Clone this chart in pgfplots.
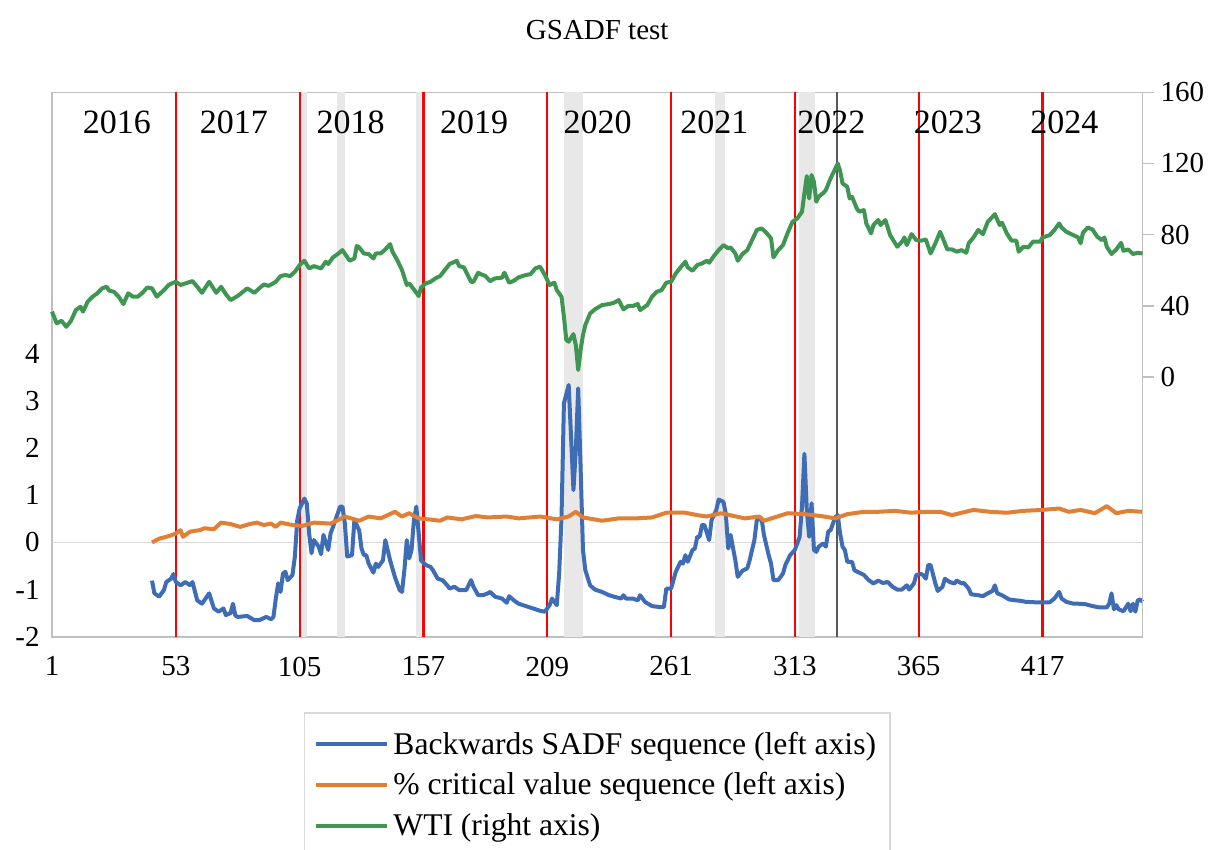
\documentclass[border=0pt]{standalone}
\usepackage{fontspec}
\setmainfont{Liberation Serif}
\usepackage{pgfplots}
\pgfplotsset{compat=1.18}
\usepackage{pgfplotstable}
\definecolor{sadf}{HTML}{3F6DB5}
\definecolor{crit}{HTML}{E17F35}
\definecolor{wti}{HTML}{3E9652}
\definecolor{band}{HTML}{E8E8E8}
\definecolor{frame}{HTML}{BFBFBF}
\definecolor{zero}{HTML}{D9D9D9}

\pgfplotstableread{
x y
1 36.7
3 30.1
5 31.6
7 28.2
9 31.6
11 37.6
13 39.5
14 36.7
16 42.3
18 45.1
20 47.0
22 49.8
24 50.7
25 48.5
27 47.9
29 45.1
31 41.0
33 47.0
35 45.1
37 45.1
39 47.3
41 50.3
43 49.8
45 45.1
48 48.8
50 51.7
52 53.0
53 53.5
55 51.7
58 53.0
60 53.9
62 50.7
64 47.3
67 53.5
70 47.3
72 50.7
74 46.6
76 43.2
79 45.5
83 49.8
86 47.3
88 49.8
90 52.0
92 51.2
95 53.5
97 56.7
99 57.3
101 56.7
103 59.1
105 62.9
107 65.3
109 61.0
111 62.3
114 61.0
116 64.8
117 63.5
119 67.2
121 69.1
123 71.3
126 65.3
128 66.6
129 73.6
130 72.8
132 69.4
134 69.1
136 66.6
137 69.4
139 69.4
141 71.7
143 74.7
144 70.4
146 65.7
148 60.1
150 51.7
151 52.6
153 49.2
155 45.5
156 50.3
158 52.6
160 53.5
162 55.4
164 56.7
166 60.1
168 63.5
171 65.3
172 62.3
174 61.6
177 53.5
178 53.5
180 58.6
181 57.8
183 56.8
185 53.8
187 55.4
190 55.8
191 58.6
193 53.0
195 54.1
197 56.0
200 57.3
202 57.8
204 61.0
206 62.0
208 57.3
210 51.7
212 53.0
213 48.8
215 45.1
216 33.9
217 20.8
218 19.8
220 24.1
221 17.9
222 3.9
223 15.1
224 23.6
225 29.2
227 35.7
229 38.0
232 40.4
235 41.0
237 41.7
239 43.2
241 38.0
243 39.9
245 39.9
247 41.0
248 37.6
251 40.4
253 45.1
255 47.9
257 48.8
259 53.0
261 53.5
263 58.2
265 61.6
267 64.8
268 61.6
270 59.7
272 62.9
274 63.8
276 65.3
277 64.2
279 68.0
281 71.3
283 74.1
285 72.3
286 72.8
288 69.4
289 65.3
291 69.1
293 71.3
295 76.9
297 82.6
299 83.5
301 81.1
303 77.9
304 67.2
306 71.3
308 74.1
310 81.1
312 87.2
314 89.1
316 92.9
317 103.2
318 112.9
319 100.3
320 113.5
321 109.7
322 98.5
323 101.3
325 103.5
326 105.0
328 111.6
329 114.4
331 120.0
332 115.9
333 108.8
335 106.9
336 100.3
337 101.3
339 94.7
340 92.9
342 93.8
343 86.3
345 80.7
346 85.4
348 88.2
349 85.4
351 88.2
353 79.7
356 73.2
358 76.0
359 78.4
360 74.1
362 80.3
364 76.9
366 76.6
368 77.3
370 69.4
372 75.1
374 81.6
375 78.4
377 71.7
379 71.7
381 70.4
383 71.3
385 69.8
386 75.1
388 78.4
390 82.6
392 80.3
394 87.2
396 90.0
397 91.5
399 85.4
400 86.7
402 80.7
404 76.6
406 76.6
407 70.4
409 73.2
411 72.8
413 76.0
416 76.0
417 78.4
420 79.7
422 82.6
424 86.3
425 84.0
427 81.6
430 79.7
432 78.4
433 75.1
434 81.1
436 84.0
438 82.9
440 78.8
442 76.9
443 78.4
444 73.2
446 69.1
448 71.7
450 75.4
451 70.9
453 71.7
455 69.1
457 69.8
459 69.4
}\wtitable

\pgfplotstableread{
x y
43 -0.81
44 -1.08
46 -1.15
48 -1.01
49 -0.84
51 -0.77
52 -0.67
53 -0.84
55 -0.91
57 -0.84
59 -0.91
60 -0.84
62 -1.23
64 -1.30
67 -1.08
69 -1.40
71 -1.47
73 -1.40
74 -1.54
76 -1.50
77 -1.30
78 -1.55
79 -1.58
83 -1.56
86 -1.65
88 -1.65
91 -1.58
93 -1.63
94 -1.58
95 -1.19
96 -0.87
97 -1.05
98 -0.66
99 -0.62
100 -0.80
102 -0.69
103 -0.30
104 0.47
105 0.72
107 0.93
108 0.83
109 0.19
110 -0.23
111 0.05
113 -0.09
114 -0.25
115 0.16
117 -0.16
118 0.19
119 0.33
120 0.47
122 0.76
123 0.76
124 0.40
125 -0.30
127 -0.27
128 0.47
130 0.26
131 -0.13
132 -0.27
133 -0.27
134 -0.45
136 -0.64
137 -0.45
138 -0.52
140 -0.38
141 0.05
143 -0.38
145 -0.73
147 -1.01
148 -1.05
149 -0.59
150 0.05
151 -0.34
152 -0.16
153 0.47
154 0.76
155 0.19
156 -0.38
158 -0.48
160 -0.52
161 -0.59
163 -0.77
165 -0.80
167 -0.91
168 -0.98
170 -0.94
172 -1.01
175 -1.01
177 -0.80
178 -0.94
180 -1.12
182 -1.12
184 -1.08
185 -1.05
187 -1.15
190 -1.19
192 -1.28
193 -1.14
195 -1.23
197 -1.30
200 -1.35
203 -1.40
206 -1.45
208 -1.47
210 -1.33
211 -1.19
213 -1.33
214 -0.66
215 0.54
216 2.95
218 3.34
219 2.24
220 1.11
221 1.96
222 3.27
223 1.61
224 -0.16
225 -0.59
227 -0.91
229 -1.00
232 -1.05
235 -1.12
237 -1.15
240 -1.19
241 -1.12
242 -1.19
245 -1.19
247 -1.23
248 -1.12
250 -1.26
253 -1.35
256 -1.37
258 -1.37
259 -0.98
261 -0.98
263 -0.62
265 -0.41
266 -0.45
267 -0.27
268 -0.41
270 -0.16
271 -0.13
272 0.12
273 0.12
274 0.37
275 0.37
277 0.05
278 0.47
280 0.69
281 0.91
283 0.86
284 0.61
285 -0.13
286 0.16
288 -0.38
289 -0.73
291 -0.60
293 -0.55
294 -0.38
296 0.05
297 0.47
299 0.51
300 0.16
302 -0.27
303 -0.45
304 -0.80
306 -0.80
308 -0.66
309 -0.48
311 -0.27
313 -0.16
314 -0.02
315 0.12
316 0.76
317 1.88
318 0.70
319 0.12
320 0.83
321 -0.16
322 -0.20
323 -0.09
325 -0.02
326 -0.09
327 0.23
328 0.26
330 0.54
331 0.58
332 0.19
333 -0.09
334 -0.16
335 -0.41
337 -0.41
338 -0.59
340 -0.64
342 -0.69
344 -0.80
346 -0.87
348 -0.81
350 -0.86
352 -0.84
354 -0.94
356 -1.00
358 -1.00
360 -0.91
361 -1.00
363 -0.87
364 -0.69
366 -0.67
367 -0.70
368 -0.77
369 -0.48
370 -0.48
372 -0.87
373 -1.03
375 -0.94
376 -0.77
378 -0.84
380 -0.87
381 -0.81
383 -0.87
384 -0.86
386 -0.98
387 -1.10
390 -1.12
392 -1.14
394 -1.08
396 -1.03
397 -0.91
398 -1.08
400 -1.12
403 -1.21
406 -1.23
408 -1.24
410 -1.26
414 -1.27
417 -1.27
420 -1.27
422 -1.19
424 -1.05
425 -1.19
427 -1.26
430 -1.30
432 -1.30
435 -1.31
438 -1.35
441 -1.38
444 -1.38
445 -1.30
446 -1.08
447 -1.42
448 -1.33
449 -1.42
451 -1.46
453 -1.30
454 -1.46
455 -1.30
456 -1.47
457 -1.23
458 -1.21
459 -1.26
}\sadftable

\pgfplotstableread{
x y
43 0.00
46 0.08
49 0.12
51 0.15
53 0.19
55 0.26
56 0.12
59 0.23
63 0.26
65 0.30
69 0.28
72 0.42
76 0.39
80 0.33
84 0.39
87 0.42
90 0.37
93 0.40
95 0.33
97 0.42
102 0.37
106 0.35
111 0.42
118 0.40
121 0.47
124 0.55
130 0.46
134 0.55
139 0.51
145 0.65
148 0.55
151 0.62
155 0.51
159 0.49
164 0.46
167 0.53
173 0.49
179 0.56
184 0.53
192 0.55
197 0.51
206 0.55
213 0.49
218 0.55
221 0.65
224 0.53
232 0.46
239 0.51
246 0.51
253 0.53
259 0.63
267 0.63
272 0.58
276 0.55
282 0.62
292 0.51
298 0.55
300 0.46
310 0.62
317 0.60
324 0.56
330 0.51
335 0.60
342 0.65
348 0.65
355 0.67
362 0.63
367 0.65
374 0.65
379 0.58
388 0.69
395 0.65
402 0.63
409 0.67
417 0.69
424 0.72
428 0.65
433 0.69
439 0.62
444 0.77
448 0.62
453 0.67
459 0.65
}\crittable

\begin{document}
\begin{tikzpicture}
\begin{axis}[
  scale only axis, width=545.25pt, height=272.2pt,
  xmin=1, xmax=459, ymin=-2, ymax=9.55,
  clip=false,
  axis line style={frame, line width=0.8pt},
  xtick={1,53,105,157,209,261,313,365,417},
  xticklabels={1,53,105,157,209,261,313,365,417},
  ytick={-2,-1,0,1,2,3,4},
  yticklabels={-2,-1,0,1,2,3,4},
  major tick length=0pt,
  tick label style={font=\fontsize{14.5}{17}\selectfont},
  xticklabel style={yshift=-6.5pt},
  yticklabel style={xshift=-2.7pt},
  extra y ticks={0}, extra y tick labels={},
  extra y tick style={grid=major, major grid style={zero, line width=0.75pt}},
  legend cell align=left,
  legend style={at={(0.5,-0.1383)}, anchor=north, draw=zero, line width=0.75pt,
    font=\fontsize{15.8}{20.25}\selectfont, inner xsep=5pt, inner ysep=7.5pt,
    row sep=3.75pt},
  legend image code/.code={\draw[#1] (0pt,0pt) -- (35.5pt,0pt);},
]
\addplot[fill=band, draw=none, forget plot] coordinates {(105.5,-2) (108.3,-2) (108.3,9.55) (105.5,9.55)};
\addplot[fill=band, draw=none, forget plot] coordinates {(120.9,-2) (124.1,-2) (124.1,9.55) (120.9,9.55)};
\addplot[fill=band, draw=none, forget plot] coordinates {(153.9,-2) (155.9,-2) (155.9,9.55) (153.9,9.55)};
\addplot[fill=band, draw=none, forget plot] coordinates {(215.9,-2) (224.0,-2) (224.0,9.55) (215.9,9.55)};
\addplot[fill=band, draw=none, forget plot] coordinates {(279.6,-2) (283.8,-2) (283.8,9.55) (279.6,9.55)};
\addplot[fill=band, draw=none, forget plot] coordinates {(314.9,-2) (321.3,-2) (321.3,9.55) (314.9,9.55)};
\pgfplotsinvokeforeach{53,105,157,209,261,313,365,417}{
  \addplot[red, line width=1.1pt, forget plot] coordinates {(#1,-2) (#1,9.55)};
}
\addplot[black!65, line width=0.6pt, forget plot] coordinates {(330.7,-2) (330.7,9.55)};

\addplot[sadf, line width=2pt, line join=round] table[x=x, y=y] {\sadftable};
\addlegendentry{Backwards SADF sequence (left axis)}
\addplot[crit, line width=2pt, line join=round] table[x=x, y=y] {\crittable};
\addlegendentry{\% critical value sequence (left axis)}
\addlegendimage{wti, line width=2pt}
\addlegendentry{WTI (right axis)}

\node[font=\fontsize{17}{20}\selectfont] at (axis cs:28.2,8.91) {2016};
\node[font=\fontsize{17}{20}\selectfont] at (axis cs:77.4,8.91) {2017};
\node[font=\fontsize{17}{20}\selectfont] at (axis cs:126.4,8.91) {2018};
\node[font=\fontsize{17}{20}\selectfont] at (axis cs:178.3,8.91) {2019};
\node[font=\fontsize{17}{20}\selectfont] at (axis cs:230.2,8.91) {2020};
\node[font=\fontsize{17}{20}\selectfont] at (axis cs:279.2,8.91) {2021};
\node[font=\fontsize{17}{20}\selectfont] at (axis cs:328.3,8.91) {2022};
\node[font=\fontsize{17}{20}\selectfont] at (axis cs:377.3,8.91) {2023};
\node[font=\fontsize{17}{20}\selectfont] at (axis cs:426.2,8.91) {2024};
\node[font=\fontsize{14.5}{17}\selectfont] at ([yshift=31pt]rel axis cs:0.5,1) {GSADF test};
\coordinate (SW) at (rel axis cs:0,0);
\coordinate (NE) at (rel axis cs:1,1);
\end{axis}

\begin{axis}[
  scale only axis, width=545.25pt, height=272.2pt,
  xmin=1, xmax=459, ymin=-146, ymax=160,
  clip=false,
  axis x line=none, axis y line*=right,
  axis line style={frame, line width=0.8pt},
  ytick={0,40,80,120,160},
  yticklabels={0,40,80,120,160},
  tick align=outside, major tick length=5.5pt,
  tick style={frame, line width=0.8pt},
  tick label style={font=\fontsize{14.5}{17}\selectfont},
]
\addplot[wti, line width=2pt, line join=round] table[x=x, y=y] {\wtitable};
\end{axis}
\pgfresetboundingbox
\path ([xshift=-26pt,yshift=-106.15pt]SW) rectangle ([xshift=35.25pt,yshift=46.15pt]NE);
\end{tikzpicture}
\end{document}
